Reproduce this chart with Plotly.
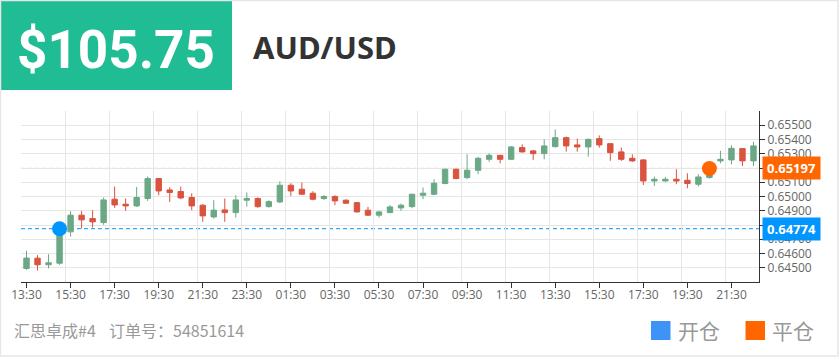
import plotly.graph_objects as go

TIMES = ["13:30", "14:00", "14:30", "15:00", "15:30", "16:00", "16:30", "17:00", "17:30", "18:00",
         "18:30", "19:00", "19:30", "20:00", "20:30", "21:00", "21:30", "22:00", "22:30", "23:00",
         "23:30", "00:00", "00:30", "01:00", "01:30", "02:00", "02:30", "03:00", "03:30", "04:00",
         "04:30", "05:00", "05:30", "06:00", "06:30", "07:00", "07:30", "08:00", "08:30", "09:00",
         "09:30", "10:00", "10:30", "11:00", "11:30", "12:00", "12:30", "13:00", "13:30", "14:00",
         "14:30", "15:00", "15:30", "16:00", "16:30", "17:00", "17:30", "18:00", "18:30", "19:00",
         "19:30", "20:00", "20:30", "21:00", "21:30", "22:00", "22:30"]

OPEN = [0.64495, 0.64567, 0.64521, 0.64532, 0.64752, 0.64869, 0.64845, 0.64817, 0.64981, 0.64946,
        0.64934, 0.64986, 0.65126, 0.65046, 0.65035, 0.64993, 0.64939, 0.64857, 0.64906, 0.64887,
        0.64974, 0.64986, 0.64929, 0.64962, 0.65079, 0.65051, 0.65023, 0.64986, 0.65000, 0.64974,
        0.64957, 0.64904, 0.64869, 0.64887, 0.64920, 0.64929, 0.65009, 0.65016, 0.65091, 0.65191,
        0.65133, 0.65184, 0.65261, 0.65289, 0.65261, 0.65343, 0.65320, 0.65301, 0.65350, 0.65413,
        0.65362, 0.65348, 0.65406, 0.65371, 0.65313, 0.65268, 0.65257, 0.65109, 0.65109, 0.65121,
        0.65114, 0.65086, 0.65133, 0.65250, 0.65257, 0.65336, 0.65250]
HIGH = [0.64619, 0.64588, 0.64595, 0.64782, 0.64897, 0.64899, 0.64904, 0.64993, 0.65070, 0.64986,
        0.65067, 0.65140, 0.65130, 0.65065, 0.65070, 0.65023, 0.64946, 0.64974, 0.64986, 0.65009,
        0.65028, 0.64995, 0.64974, 0.65107, 0.65093, 0.65098, 0.65037, 0.65009, 0.65009, 0.64981,
        0.64962, 0.64927, 0.64899, 0.64939, 0.64950, 0.65018, 0.65063, 0.65121, 0.65196, 0.65196,
        0.65296, 0.65278, 0.65303, 0.65292, 0.65355, 0.65366, 0.65327, 0.65401, 0.65471, 0.65420,
        0.65406, 0.65406, 0.65429, 0.65373, 0.65343, 0.65296, 0.65261, 0.65140, 0.65137, 0.65191,
        0.65163, 0.65156, 0.65214, 0.65320, 0.65359, 0.65338, 0.65383]
LOW = [0.64486, 0.64481, 0.64495, 0.64521, 0.64719, 0.64775, 0.64782, 0.64801, 0.64920, 0.64899,
       0.64927, 0.64969, 0.65009, 0.64962, 0.64981, 0.64904, 0.64822, 0.64845, 0.64822, 0.64852,
       0.64929, 0.64920, 0.64922, 0.64953, 0.65004, 0.65011, 0.64974, 0.64976, 0.64939, 0.64948,
       0.64887, 0.64864, 0.64852, 0.64883, 0.64899, 0.64918, 0.64981, 0.65011, 0.65086, 0.65121,
       0.65121, 0.65156, 0.65243, 0.65233, 0.65257, 0.65308, 0.65257, 0.65261, 0.65343, 0.65315,
       0.65315, 0.65280, 0.65343, 0.65250, 0.65250, 0.65243, 0.65081, 0.65074, 0.65105, 0.65086,
       0.65058, 0.65070, 0.65126, 0.65233, 0.65226, 0.65214, 0.65214]
CLOSE = [0.64568, 0.64521, 0.64535, 0.64759, 0.64869, 0.64836, 0.64822, 0.64976, 0.64941, 0.64934,
         0.64993, 0.65126, 0.65039, 0.65028, 0.64990, 0.64934, 0.64864, 0.64904, 0.64887, 0.64976,
         0.64986, 0.64929, 0.64964, 0.65079, 0.65039, 0.65016, 0.64981, 0.65000, 0.64969, 0.64953,
         0.64892, 0.64869, 0.64892, 0.64927, 0.64939, 0.65016, 0.65023, 0.65093, 0.65191, 0.65126,
         0.65184, 0.65268, 0.65289, 0.65261, 0.65348, 0.65313, 0.65301, 0.65355, 0.65413, 0.65355,
         0.65348, 0.65401, 0.65362, 0.65308, 0.65261, 0.65250, 0.65109, 0.65121, 0.65121, 0.65109,
         0.65091, 0.65137, 0.65186, 0.65261, 0.65338, 0.65250, 0.65355]

OPEN_INDEX, OPEN_PRICE = 3, 0.64774
CLOSE_INDEX, CLOSE_PRICE = 62, 0.65197
Y_TICKS = [0.645, 0.646, 0.647, 0.648, 0.649, 0.650, 0.651, 0.652, 0.653, 0.654, 0.655]
Y_RANGE = [0.644, 0.656]
PRICE_TEXT = "$105.75"
SYMBOL = "AUD/USD"
ACCOUNT = "汇思卓成#4"
ORDER_LABEL = "订单号："
ORDER_NO = "54851614"
LEGEND_OPEN = "开仓"
LEGEND_CLOSE = "平仓"

W, H = 840, 357
L, R, T, B = 21, 81, 111, 75
PW, PH = W - L - R, H - T - B


def px(x):
    return (x - L) / PW


def py(y):
    return (T + PH - y) / PH


GREEN = "#6aa886"
RED = "#d9533f"
BLUE = "#0095ff"
ORANGE = "#ff6600"
GRID = "#e6e6e6"
AXIS = "#333333"
TICKFONT = dict(family="Open Sans, Noto Sans, sans-serif", size=12, color="#666666")
FOOTFONT = dict(family="Noto Sans CJK SC, sans-serif", size=16, color="#999999")

n = len(OPEN)
xs = list(range(n))

fig = go.Figure()
fig.add_trace(go.Candlestick(
    x=xs, open=OPEN, high=HIGH, low=LOW, close=CLOSE,
    increasing=dict(line=dict(color=GREEN, width=1), fillcolor=GREEN),
    decreasing=dict(line=dict(color=RED, width=1), fillcolor=RED),
    whiskerwidth=0, showlegend=False, hoverinfo="skip",
))
fig.add_trace(go.Scatter(x=[OPEN_INDEX], y=[OPEN_PRICE], mode="markers",
                         marker=dict(size=15, color=BLUE), showlegend=False, hoverinfo="skip"))
fig.add_trace(go.Scatter(x=[CLOSE_INDEX], y=[CLOSE_PRICE], mode="markers",
                         marker=dict(size=15, color=ORANGE), showlegend=False, hoverinfo="skip"))

shapes = []
for val, col in [(OPEN_PRICE, BLUE), (CLOSE_PRICE, ORANGE)]:
    shapes.append(dict(type="line", xref="paper", yref="y", x0=0, x1=1, y0=val, y1=val,
                       line=dict(color=col, width=1, dash="4px,3px"), layer="below"))
# header box
shapes.append(dict(type="rect", xref="paper", yref="paper", x0=px(0), x1=px(232), y0=py(90), y1=py(0),
                   fillcolor="#20bd94", line=dict(width=0), layer="below"))
# outer border
shapes.append(dict(type="rect", xref="paper", yref="paper", x0=px(0.5), x1=px(838), y0=py(356), y1=py(0.5),
                   fillcolor="rgba(0,0,0,0)", line=dict(color="#e6e6e6", width=1.5), layer="below"))
# legend squares
shapes.append(dict(type="rect", xref="paper", yref="paper", x0=px(651), x1=px(670.5), y0=py(340), y1=py(321),
                   fillcolor="#3d94f6", line=dict(width=0)))
shapes.append(dict(type="rect", xref="paper", yref="paper", x0=px(745.5), x1=px(765), y0=py(340), y1=py(321),
                   fillcolor=ORANGE, line=dict(width=0)))

annotations = [
    dict(text=f"<b>{PRICE_TEXT}</b>", xref="paper", yref="paper", x=px(116), y=py(50),
         xanchor="center", yanchor="middle", showarrow=False,
         font=dict(family="Roboto, sans-serif", size=53, color="white")),
    dict(text=f"<b>{SYMBOL}</b>", xref="paper", yref="paper", x=px(251), y=py(47),
         xanchor="left", yanchor="middle", showarrow=False,
         font=dict(family="Noto Sans, Open Sans, sans-serif", size=31, color="#333333")),
    dict(text=ACCOUNT, xref="paper", yref="paper", x=px(12), y=py(330),
         xanchor="left", yanchor="middle", showarrow=False, font=FOOTFONT),
    dict(text=ORDER_LABEL, xref="paper", yref="paper", x=px(107), y=py(330),
         xanchor="left", yanchor="middle", showarrow=False, font=FOOTFONT),
    dict(text=ORDER_NO, xref="paper", yref="paper", x=px(171), y=py(330),
         xanchor="left", yanchor="middle", showarrow=False, font=FOOTFONT),
    dict(text=LEGEND_OPEN, xref="paper", yref="paper", x=px(676), y=py(330),
         xanchor="left", yanchor="middle", showarrow=False,
         font=dict(family="Noto Sans CJK SC, sans-serif", size=21, color="#999999")),
    dict(text=LEGEND_CLOSE, xref="paper", yref="paper", x=px(770), y=py(330),
         xanchor="left", yanchor="middle", showarrow=False,
         font=dict(family="Noto Sans CJK SC, sans-serif", size=21, color="#999999")),
]
for val, col in [(OPEN_PRICE, BLUE), (CLOSE_PRICE, ORANGE)]:
    annotations.append(dict(text=f"<b>{val:.5f}</b>", xref="paper", yref="y", x=px(762), y=val,
                            xanchor="left", yanchor="middle", showarrow=False,
                            bgcolor=col, width=57, height=22, borderpad=0,
                            font=dict(family="Open Sans, Noto Sans, sans-serif", size=13, color="white")))

tick_idx = list(range(0, n, 4))
fig.update_layout(
    width=W, height=H, margin=dict(l=L, r=R, t=T, b=B),
    paper_bgcolor="white", plot_bgcolor="white",
    shapes=shapes, annotations=annotations, showlegend=False,
    xaxis=dict(range=[-0.5, n - 0.5], tickvals=tick_idx, ticktext=[TIMES[i] for i in tick_idx],
               showgrid=False, showline=True, linecolor=AXIS, linewidth=1,
               ticks="outside", ticklen=5, tickcolor=AXIS, tickfont=TICKFONT,
               ticklabelstandoff=-3,
               rangeslider=dict(visible=False), zeroline=False,
               minor=dict(tickvals=[i - 0.5 for i in tick_idx], showgrid=True, gridcolor=GRID,
                          gridwidth=1, ticks="")),
    yaxis=dict(side="right", range=Y_RANGE, tickvals=Y_TICKS, tickformat=".5f",
               showgrid=True, gridcolor=GRID, gridwidth=1, showline=True, linecolor=AXIS,
               linewidth=1, ticks="outside", ticklen=5, tickcolor=AXIS, tickfont=TICKFONT,
               zeroline=False,
               minor=dict(tickvals=[Y_RANGE[1]], showgrid=True, gridcolor=GRID, ticks="")),
)

fig.write_html("out.html")
